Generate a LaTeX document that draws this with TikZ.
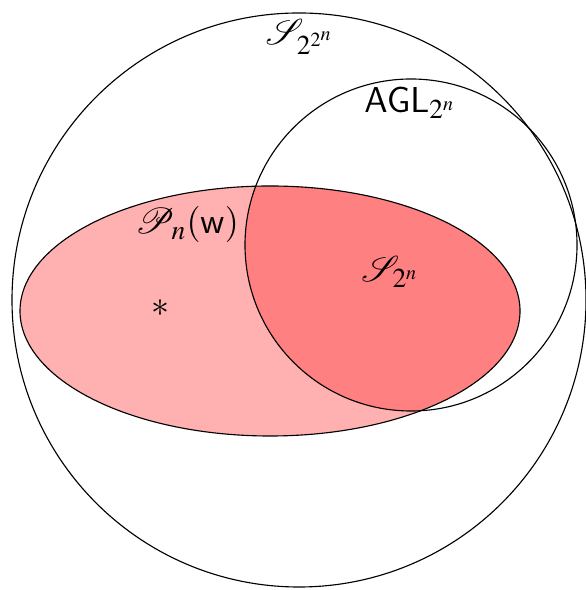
\documentclass[tikz,border=0pt]{standalone}
\usepackage{mathptmx}
\usepackage{mathrsfs}
\usepackage[no-math]{fontspec}
\setsansfont{Liberation Sans}
\usepackage{tikz}
\usetikzlibrary{positioning}
\definecolor{setpink}{RGB}{255, 176, 176}
\definecolor{setred} {RGB}{255, 128, 128}
\tikzset{
  setline/.style={
    draw=black, line width=0.45pt
  },
  setlabel/.style={
    font=\Large, inner sep=1pt
  },
}

\begin{document}
\begin{tikzpicture}[x=0.4pt, y=0.4pt]
  \useasboundingbox (0,0) rectangle (585,590);

  % Fills
  \fill[setpink] (270,279) ellipse [x radius=250, y radius=125];
  \begin{scope}
    \clip (411,345) circle [radius=166];
    \fill[setred] (270,279) ellipse [x radius=250, y radius=125];
  \end{scope}

  % Outlines
  \draw[setline] (299,290) circle [radius=287];
  \draw[setline] (411,345) circle [radius=166];
  \draw[setline] (270,279) ellipse [x radius=250, y radius=125];

  % Labels
  \node[setlabel] (Sbig) at (300,553) {$\mathscr{S}_{2^{2^n}}$};
  \node[setlabel] (AGL)  at (410,487) {$\mathsf{AGL}_{2^n}$};
  \node[setlabel] (Pn)   at (187,365) {$\mathscr{P}_n(\mathsf{w})$};
  \node[setlabel] (Ssm)  at (390,318) {$\mathscr{S}_{2^n}$};
  \node[setlabel] (star) at (160,282) {$*$};
\end{tikzpicture}
\end{document}
